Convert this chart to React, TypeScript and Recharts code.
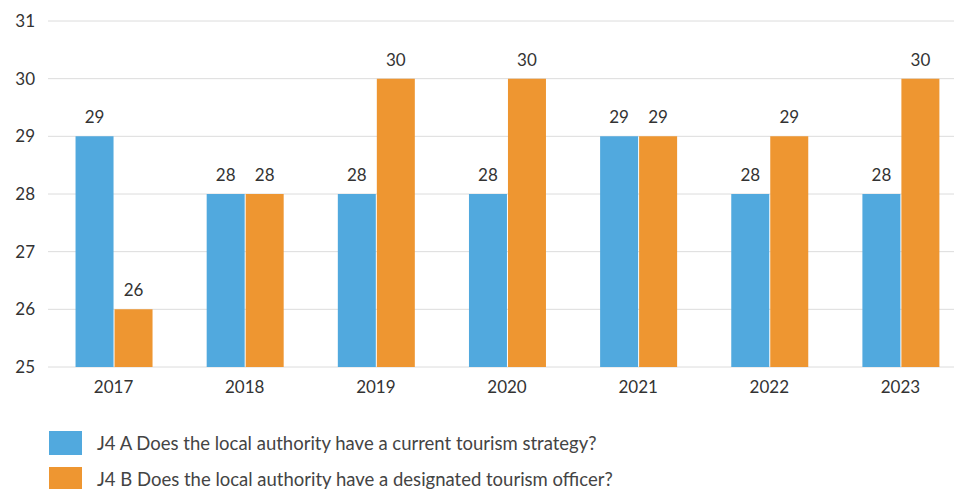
import { BarChart, Bar, XAxis, YAxis, CartesianGrid, LabelList } from "recharts";

const years = ["2017", "2018", "2019", "2020", "2021", "2022", "2023"];
const strategy = [29, 28, 28, 28, 29, 28, 28];
const officer = [26, 28, 30, 30, 29, 29, 30];
const yTicks = [25, 26, 27, 28, 29, 30, 31];

const seriesA = "J4 A Does the local authority have a current tourism strategy?";
const seriesB = "J4 B Does the local authority have a designated tourism officer?";

const BLUE = "#51a9de";
const ORANGE = "#ee9631";
const FONT = "Lato, 'Open Sans', sans-serif";

const data = years.map((year, i) => ({
  year,
  a: strategy[i],
  b: officer[i],
}));

const legendItems = [
  { label: seriesA, color: BLUE },
  { label: seriesB, color: ORANGE },
];

export default function App() {
  return (
    <div
      style={{
        position: "absolute",
        left: 0,
        top: 0,
        width: 954,
        height: 489,
        background: "#fff",
        fontFamily: FONT,
        overflow: "hidden",
      }}
    >
      <BarChart
        width={954}
        height={410}
        data={data}
        margin={{ top: 21, right: -12, left: 0, bottom: 13 }}
        barGap={1}
        barCategoryGap="21%"
        style={{ overflow: "hidden" }}
      >
        <CartesianGrid vertical={false} stroke="#dcdcdc" />
        <XAxis
          dataKey="year"
          axisLine={false}
          tickLine={false}
          height={30}
          tickSize={0}
          tickMargin={14}
          tick={{ fill: "#333", fontSize: 17, fontFamily: FONT }}
        />
        <YAxis
          domain={[25, 31]}
          ticks={yTicks}
          width={48}
          axisLine={false}
          tickLine={false}
          tickSize={0}
          tickMargin={13}
          tick={{ fill: "#333", fontSize: 17, fontFamily: FONT }}
        />
        <Bar dataKey="a" fill={BLUE} isAnimationActive={false}>
          <LabelList
            dataKey="a"
            position="top"
            offset={13}
            style={{ fill: "#333", fontSize: 17, fontFamily: FONT }}
          />
        </Bar>
        <Bar dataKey="b" fill={ORANGE} isAnimationActive={false}>
          <LabelList
            dataKey="b"
            position="top"
            offset={13}
            style={{ fill: "#333", fontSize: 17, fontFamily: FONT }}
          />
        </Bar>
      </BarChart>
      <div style={{ position: "absolute", left: 49, top: 431 }}>
        {legendItems.map((item) => (
          <div
            key={item.label}
            style={{ display: "flex", alignItems: "center", height: 24, marginBottom: 12 }}
          >
            <div style={{ width: 33, height: 24, background: item.color, marginRight: 15 }} />
            <span style={{ fontSize: 18.5, color: "#444" }}>{item.label}</span>
          </div>
        ))}
      </div>
    </div>
  );
}
